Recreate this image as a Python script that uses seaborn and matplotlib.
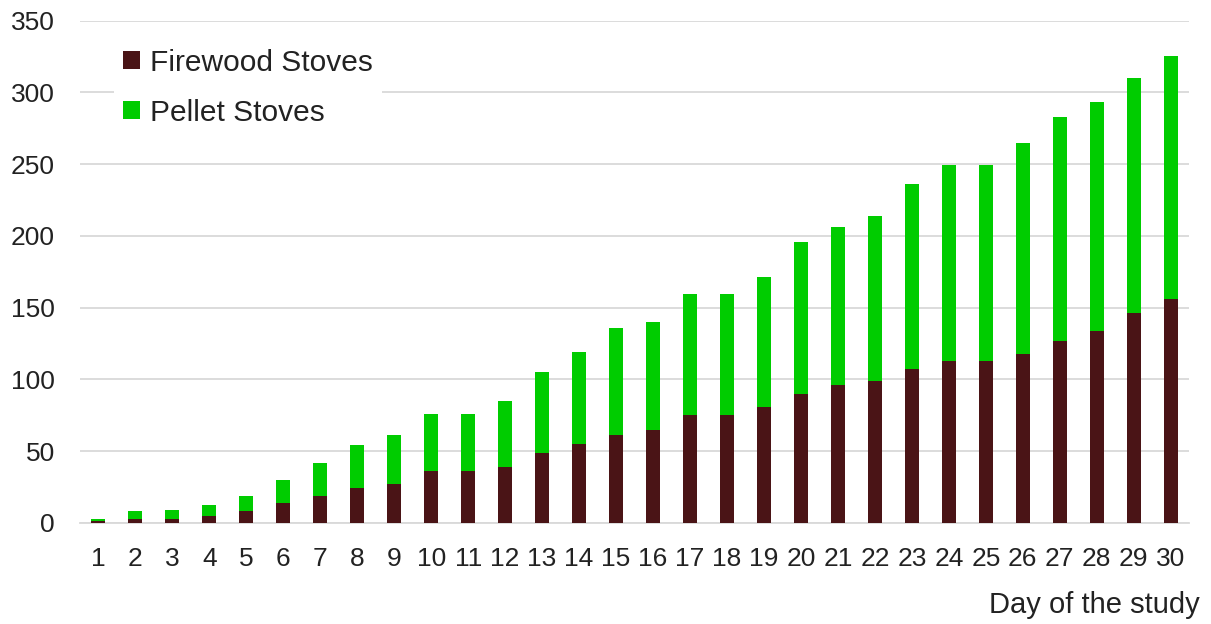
import pandas as pd
import numpy as np
import matplotlib.pyplot as plt
import seaborn as sns

# values
days = list(range(1, 31))
firewood = [1.5, 3, 3, 5, 8, 14, 18.5, 24, 27, 36, 36, 39, 49, 55, 61, 65, 75.5, 75.5, 80.5, 90,
            96, 99, 107, 113, 113, 118, 126.5, 134, 146, 156]
pellet = [1.5, 5, 6, 7.5, 11, 16, 23.5, 30, 34, 40, 40, 46, 56, 64, 75, 75, 84, 84, 90.5, 106,
          110, 115, 129, 136.5, 136.5, 147, 156.5, 159, 164, 169]

veri = pd.DataFrame({"day": days, "firewood": firewood, "pellet": pellet})
veri["total"] = veri["firewood"] + veri["pellet"]

sns.set_style("white")
plt.rcParams["font.family"] = ["Liberation Sans", "DejaVu Sans"]

fig = plt.figure(figsize=(12.11, 6.24), dpi=100)
ax = fig.add_axes([0.066, 0.162, 0.916, 0.805])

# stacked bars: total drawn first, firewood on top of it
sns.barplot(data=veri, x="day", y="total", color="#00CC00", width=0.38,
            saturation=1, linewidth=0, ax=ax, label="Pellet Stoves", zorder=2)
sns.barplot(data=veri, x="day", y="firewood", color="#4A1416", width=0.38,
            saturation=1, linewidth=0, ax=ax, label="Firewood Stoves", zorder=3)

ax.set_ylim(0, 350)
ax.set_xlim(-0.5, 29.5)
ax.set_yticks(np.arange(0, 351, 50))
ax.yaxis.grid(True, color="#D9D9D9", linewidth=1.3, zorder=0)
ax.set_axisbelow(True)
for s in ["top", "right", "left"]:
    ax.spines[s].set_visible(False)
ax.spines["bottom"].set_color("#D9D9D9")
ax.spines["bottom"].set_linewidth(1.3)
ax.tick_params(axis="both", length=0, labelsize=19, colors="#222222")
ax.tick_params(axis="x", pad=17)
ax.tick_params(axis="y", pad=18)
ax.set_xlabel("")
ax.set_ylabel("")
fig.text(0.991, 0.03, "Day of the study", ha="right", va="center", fontsize=21, color="#222222")

h, l = ax.get_legend_handles_labels()
order = [l.index("Firewood Stoves"), l.index("Pellet Stoves")]
leg = ax.legend([h[i] for i in order], [l[i] for i in order], loc="upper left",
                bbox_to_anchor=(0.0175, 0.991), fontsize=21.5, frameon=True, framealpha=1,
                edgecolor="white", handlelength=0.55, handleheight=0.55, handletextpad=0.35,
                labelspacing=0.72, borderpad=0.3, labelcolor="#222222")
leg.get_frame().set_linewidth(0)

plt.savefig("out.png", dpi=100)
